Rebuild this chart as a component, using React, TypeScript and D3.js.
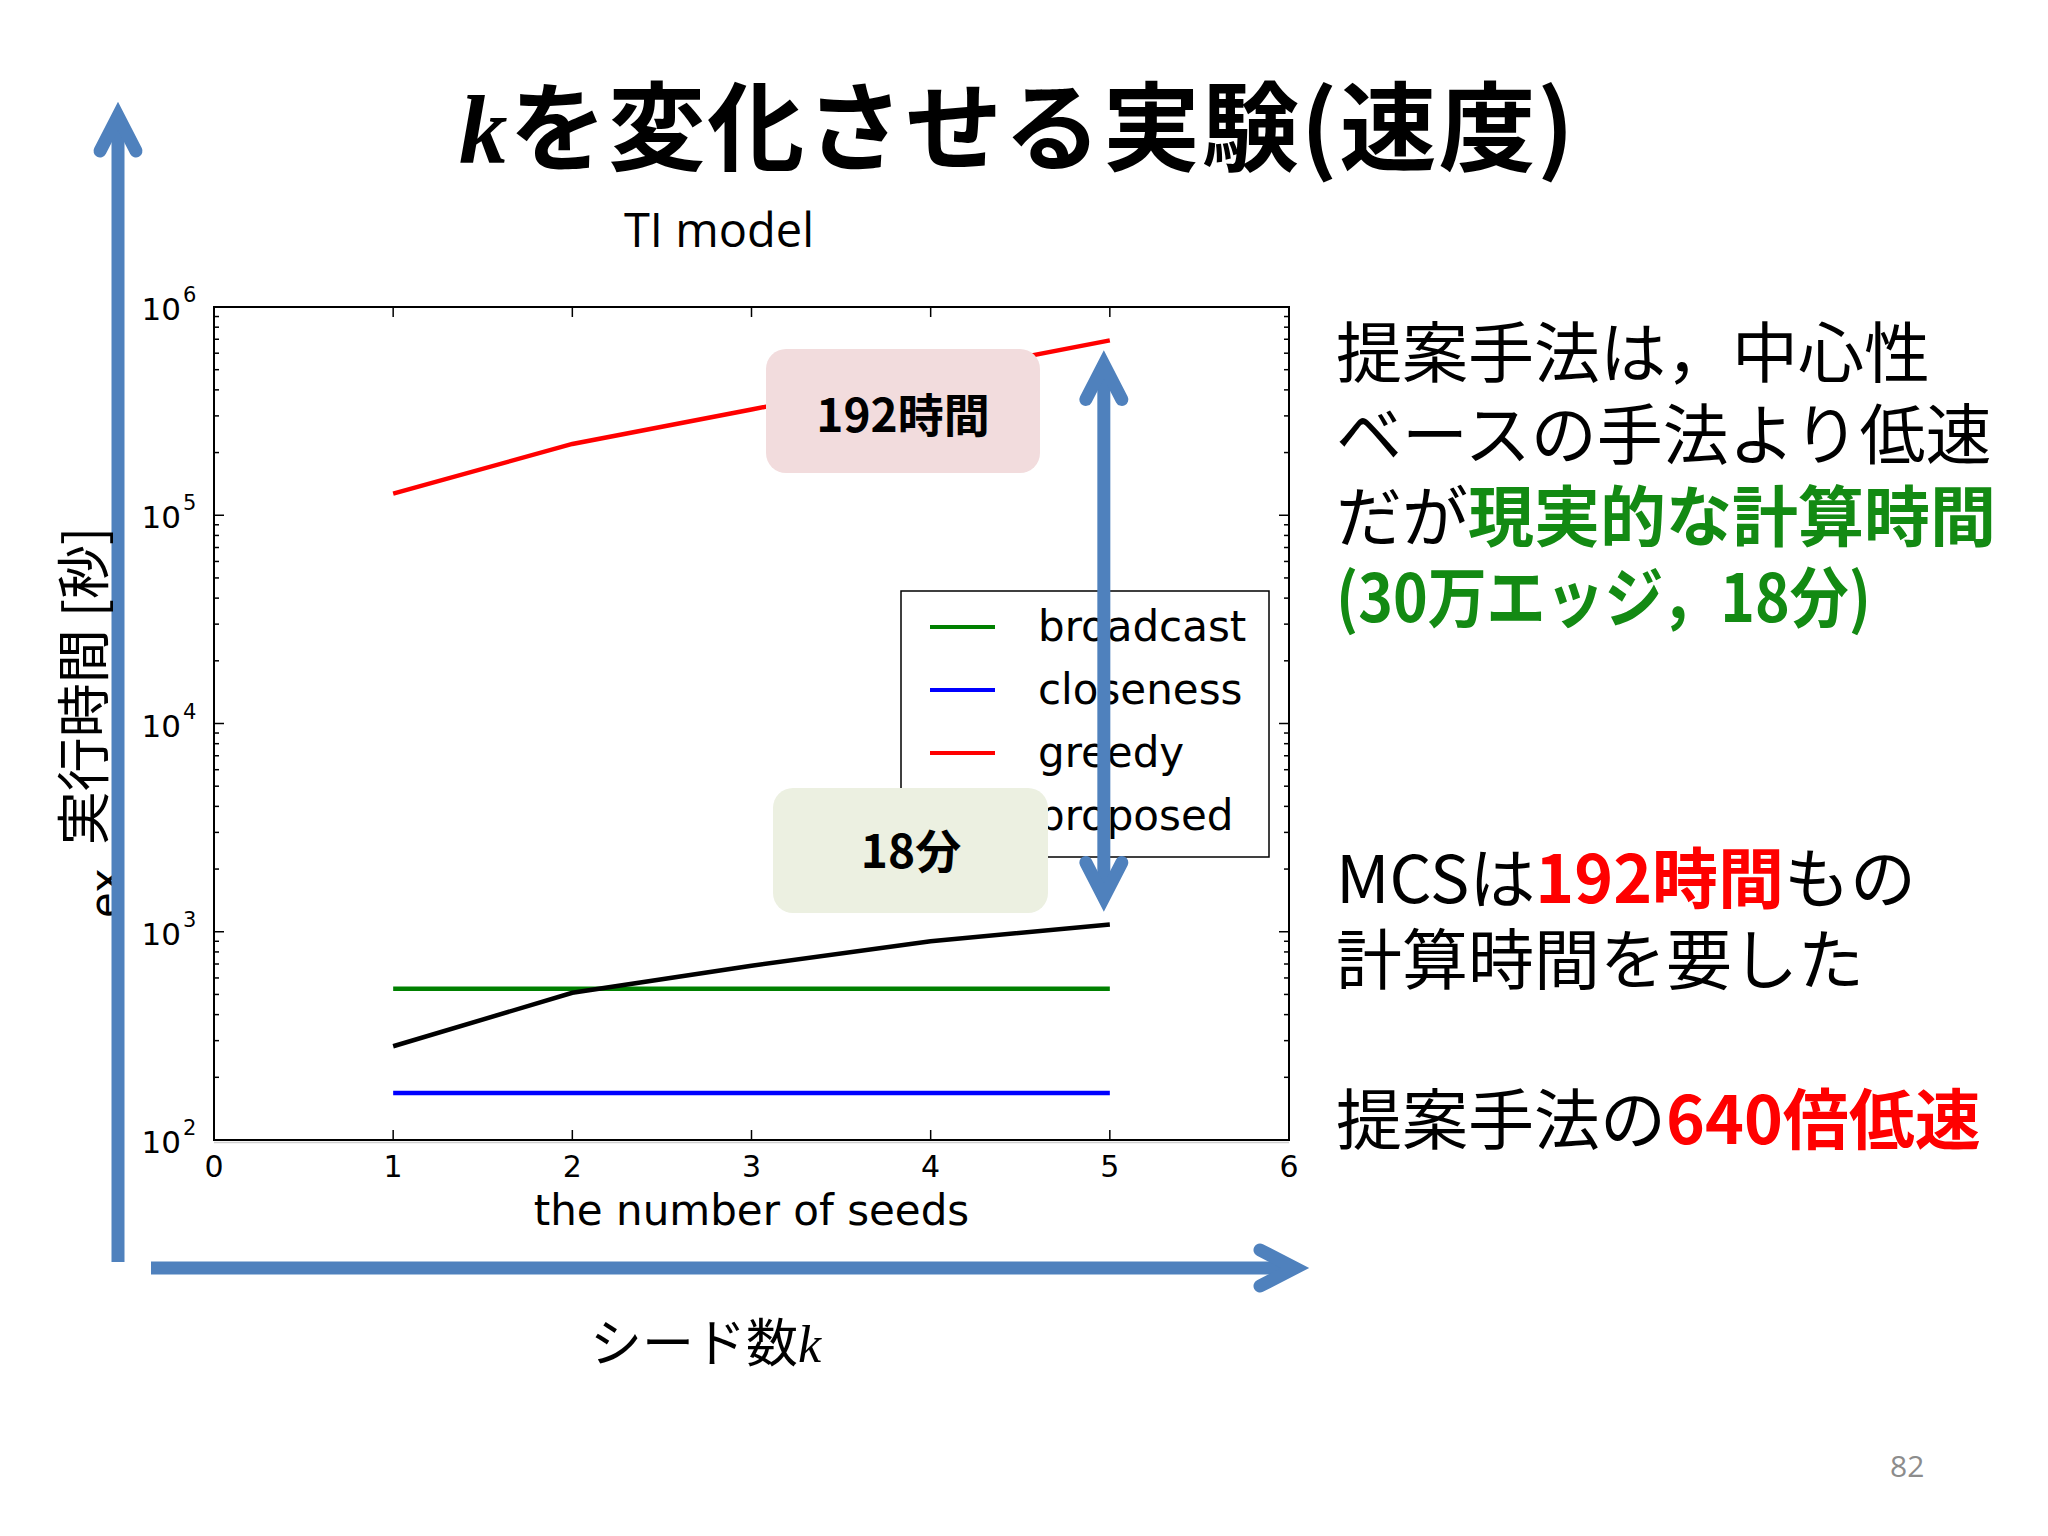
import React from 'react';
import * as d3 from 'd3';

const seeds = [1, 2, 3, 4, 5];
const broadcast = [533, 533, 533, 533, 533];
const closeness = [168, 168, 168, 168, 168];
const greedy = [127000, 220000, 322000, 472000, 691200];
const proposed = [282, 509, 687, 900, 1084];

const seriesNames = ['broadcast', 'closeness', 'greedy', 'proposed'];
const seriesColors = ['#008000', '#0000ff', '#ff0000', '#000000'];

const W = 2048;
const H = 1536;
const mpl = "'DejaVu Sans', sans-serif";
const jp = "'Noto Sans CJK JP', sans-serif";
const arrowBlue = '#4f81bd';
const green = '#138a13';
const red = '#ff0000';

const left = 214;
const right = 1289;
const top = 307;
const bottom = 1140;

const x = d3.scaleLinear().domain([0, 6]).range([left, right]);
const y = d3.scaleLog().domain([1e2, 1e6]).range([bottom, top]);

const line = d3
  .line<number>()
  .x((_, i) => x(seeds[i]))
  .y((d) => y(d));

// thick office-style arrow: shaft plus open chevron head(s)
function Arrow({ x1, y1, x2, y2, both = false }: any) {
  const w = 13;
  const len = Math.hypot(x2 - x1, y2 - y1);
  const dx = (x2 - x1) / len;
  const dy = (y2 - y1) / len;
  const nx = -dy;
  const ny = dx;
  const head = (tx: number, ty: number, ux: number, uy: number) => {
    const cx = tx - ux * 14;
    const cy = ty - uy * 14;
    const ax = cx - ux * 35 + nx * 18;
    const ay = cy - uy * 35 + ny * 18;
    const bx = cx - ux * 35 - nx * 18;
    const by = cy - uy * 35 - ny * 18;
    return `M${ax},${ay}L${cx},${cy}L${bx},${by}`;
  };
  const sx = both ? x1 + dx * 14 : x1;
  const sy = both ? y1 + dy * 14 : y1;
  return (
    <g stroke={arrowBlue} fill="none" strokeWidth={w}>
      <line x1={sx} y1={sy} x2={x2 - dx * 14} y2={y2 - dy * 14} />
      <path d={head(x2, y2, dx, dy)} strokeLinecap="round" strokeLinejoin="miter" strokeMiterlimit={10} />
      {both && (
        <path d={head(x1, y1, -dx, -dy)} strokeLinecap="round" strokeLinejoin="miter" strokeMiterlimit={10} />
      )}
    </g>
  );
}

export default function App() {
  const yTicks = y.ticks();
  const isMajor = (v: number) => Math.abs(Math.log10(v) - Math.round(Math.log10(v))) < 1e-9;
  const xTicks = x.ticks(6);
  const data = [broadcast, closeness, greedy, proposed];

  return (
    <svg
      width={W}
      height={H}
      style={{ position: 'absolute', left: 0, top: 0, background: '#fff' }}
    >
      <rect width={W} height={H} fill="#fff" />

      {/* title */}
      <text
        x={459}
        y={163}
        fontFamily={jp}
        fontWeight="bold"
        fontSize={97}
        fill="#000"
        textLength={1115}
        lengthAdjust="spacing"
      >
        <tspan fontFamily="'Liberation Serif', serif" fontStyle="italic">k</tspan>
        <tspan>を変化させる実験(速度)</tspan>
      </text>

      {/* matplotlib figure */}
      <text x={719} y={247} textAnchor="middle" fontFamily="'Open Sans', sans-serif" fontSize={47}>
        TI model
      </text>

      {data.map((d, i) => (
        <path
          key={seriesNames[i]}
          d={line(d) || ''}
          fill="none"
          stroke={seriesColors[i]}
          strokeWidth={4.5}
        />
      ))}

      <rect x={left} y={top} width={right - left} height={bottom - top} fill="none" stroke="#000" strokeWidth={2} />
      <line x1={left} x2={right} y1={bottom + 2.5} y2={bottom + 2.5} stroke="#cfcfcf" strokeWidth={1.5} />

      {yTicks.map((v) => {
        const len = isMajor(v) ? 10 : 5;
        return (
          <g key={'y' + v} stroke="#000" strokeWidth={1.5}>
            <line x1={left} x2={left + len} y1={y(v)} y2={y(v)} />
            <line x1={right} x2={right - len} y1={y(v)} y2={y(v)} />
          </g>
        );
      })}
      {yTicks.filter(isMajor).map((v) => (
        <g key={'yl' + v} fontFamily={mpl} fill="#000">
          <text x={181} y={y(v) + 13} textAnchor="end" fontSize={31}>10</text>
          <text x={183} y={y(v) - 5} fontSize={21}>{Math.round(Math.log10(v))}</text>
        </g>
      ))}

      {xTicks.map((v) => (
        <g key={'x' + v}>
          <line x1={x(v)} x2={x(v)} y1={bottom} y2={bottom - 10} stroke="#000" strokeWidth={1.5} />
          <line x1={x(v)} x2={x(v)} y1={top} y2={top + 10} stroke="#000" strokeWidth={1.5} />
          <text x={x(v)} y={1177} textAnchor="middle" fontFamily={mpl} fontSize={30}>{v}</text>
        </g>
      ))}

      <text x={(left + right) / 2} y={1225} textAnchor="middle" fontFamily={mpl} fontSize={42}>
        the number of seeds
      </text>

      {/* legend */}
      <rect x={901} y={591} width={368} height={266} fill="#fff" stroke="#000" strokeWidth={1.5} />
      {seriesNames.map((name, i) => (
        <g key={'lg' + name}>
          <line x1={930} x2={995} y1={627 + i * 63} y2={627 + i * 63} stroke={seriesColors[i]} strokeWidth={4} />
          <text x={1038} y={641 + i * 63} fontFamily={mpl} fontSize={42}>{name}</text>
        </g>
      ))}

      {/* peeking matplotlib ylabel */}
      <text transform="translate(120,918) rotate(-90)" fontFamily={mpl} fontSize={42}>ex</text>

      {/* overlays */}
      <rect x={766} y={349} width={274} height={124} rx={20} fill="#f2dcdd" />
      <text x={903} y={432} textAnchor="middle" fontFamily={jp} fontWeight="bold" fontSize={46}>192時間</text>

      <rect x={773} y={788} width={275} height={125} rx={20} fill="#ecf0e1" />
      <text x={911} y={868} textAnchor="middle" fontFamily={jp} fontWeight="bold" fontSize={46}>18分</text>

      <Arrow x1={x(5) - 6} y1={y(greedy[4]) + 10} x2={x(5) - 6} y2={y(proposed[4]) - 13} both />
      <Arrow x1={118} y1={1262} x2={118} y2={102} />
      <Arrow x1={151} y1={1268} x2={1309} y2={1268} />

      <text transform="translate(104,686) rotate(-90)" textAnchor="middle" fontFamily={jp} fontSize={54}>
        実行時間 [秒]
      </text>
      <text x={590} y={1362} fontFamily={jp} fontSize={52}>
        シード数<tspan fontFamily="'Liberation Serif', serif" fontStyle="italic">k</tspan>
      </text>

      {/* right-side notes */}
      <g fontFamily={jp} fontSize={66} fill="#000">
        <text x={1336} y={377}>提案手法は，中心性</text>
        <text x={1336} y={459}>ベースの手法より低速</text>
        <text x={1336} y={541}>
          だが<tspan fill={green} fontWeight="bold">現実的な計算時間</tspan>
        </text>
        <text x={1336} y={622} fill={green} fontWeight="bold" textLength={535} lengthAdjust="spacingAndGlyphs">
          (30万エッジ，18分)
        </text>
        <text x={1336} y={903}>
          MCSは<tspan fill={red} fontWeight="bold">192時間</tspan>もの
        </text>
        <text x={1336} y={984}>計算時間を要した</text>
        <text x={1336} y={1144}>
          提案手法の<tspan fill={red} fontWeight="bold">640倍低速</tspan>
        </text>
      </g>

      <text x={1890} y={1477} fontFamily="'Open Sans', sans-serif" fontSize={30} fill="#8c8c8c">82</text>
    </svg>
  );
}
